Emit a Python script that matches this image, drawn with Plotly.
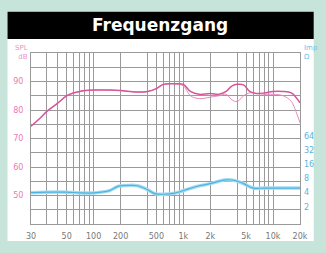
import math
import plotly.graph_objects as go

# Frequency (Hz)
freq_spl = [20, 25, 30, 40, 50, 60, 70, 80, 100, 150, 200, 300, 400, 500, 600, 800, 1000,
            1200, 1500, 2000, 2500, 3000, 3500, 4000, 4700, 5500, 6500, 8000, 10000,
            13000, 16000, 18000, 20000]
# SPL on-axis (dB)
spl_main = [74.3, 77, 79.5, 82.5, 85, 86, 86.5, 86.8, 87, 87, 86.8, 86.3, 86.5, 87.5, 89, 89.2, 89,
            86.5, 85.5, 85.8, 85.5, 86.5, 88.5, 89, 88.8, 86.5, 85.8, 86, 86.5,
            86.5, 86, 84.5, 82.5]
# SPL off-axis (dB)
spl_off = [74.3, 77, 79.5, 82.5, 85, 86, 86.5, 86.8, 87, 87, 86.8, 86.3, 86.5, 87.5, 89, 89.2, 88.5,
           85, 84, 84.5, 85, 85.5, 83.5, 83, 85, 86, 85.8, 85.5, 85.5,
           85, 83, 79.5, 75.5]

freq_imp = [20, 30, 50, 70, 100, 150, 190, 250, 310, 400, 480, 600, 800, 1030, 1400, 2000,
            2500, 3050, 3800, 4700, 6000, 8000, 12000, 20000]
imp = [4.0, 4.1, 4.1, 3.95, 3.95, 4.4, 5.5, 5.7, 5.6, 4.6, 3.8, 3.7, 3.9, 4.5, 5.4, 6.2,
       7.0, 7.5, 7.2, 6.2, 5.0, 5.0, 5.0, 5.0]

x_grid = [20, 30, 40, 50, 60, 70, 80, 90, 100, 200, 400, 500, 600, 700, 800, 900, 1000,
          2000, 4000, 5000, 6000, 7000, 8000, 9000, 10000, 20000]
x_label_vals = [20, 50, 100, 200, 500, 1000, 2000, 5000, 10000, 20000]
x_labels = ["30", "50", "100", "200", "500", "1k", "2k", "5k", "10k", "20k"]
y_grid = [40, 45, 50, 55, 60, 65, 70, 75, 80, 85, 90, 95, 100]
y_labels = {50: "50", 60: "60", 70: "70", 80: "80", 90: "90"}
imp_ticks = [2, 4, 8, 16, 32, 64]

pink = "#d8559a"
pink_light = "#e48cbd"
blue = "#4fb3df"

fig = go.Figure()
fig.add_trace(go.Scatter(x=freq_spl, y=spl_off, mode="lines",
                         line=dict(color=pink_light, width=1, shape="spline"), showlegend=False))
fig.add_trace(go.Scatter(x=freq_spl, y=spl_main, mode="lines",
                         line=dict(color=pink, width=1.5, shape="spline"), showlegend=False))
fig.add_trace(go.Scatter(x=freq_imp, y=imp, mode="lines", yaxis="y2",
                         line=dict(color="#a6dcf2", width=3.5, shape="spline"), showlegend=False))
fig.add_trace(go.Scatter(x=freq_imp, y=imp, mode="lines", yaxis="y2",
                         line=dict(color=blue, width=1.2, shape="spline"), showlegend=False))

lo, hi = math.log10(20), math.log10(20000)

fig.update_layout(
    width=326, height=253,
    margin=dict(l=31, r=20, t=53, b=18),
    paper_bgcolor="#c6e4da",
    plot_bgcolor="white",
    font=dict(family="DejaVu Sans", size=8, color="#777"),
    xaxis=dict(type="log", range=[lo, hi], tickvals=x_grid,
               ticktext=[x_labels[x_label_vals.index(v)] if v in x_label_vals else "" for v in x_grid],
               showgrid=True, gridcolor="#9a9a9a", gridwidth=1,
               showline=True, linecolor="#9a9a9a", mirror=True, ticks="",
               ticklabelstandoff=4,
               tickfont=dict(size=8, color="#777"), zeroline=False),
    yaxis=dict(range=[40, 100], tickvals=y_grid,
               ticktext=[y_labels.get(v, "") for v in y_grid],
               showgrid=True, gridcolor="#9a9a9a", gridwidth=1,
               showline=True, linecolor="#9a9a9a", mirror=True, ticks="",
               ticklabelstandoff=5,
               tickfont=dict(size=8, color="#ec78b6"), zeroline=False),
    yaxis2=dict(type="log", range=[-0.064, 3.567], overlaying="y", side="right",
                tickvals=imp_ticks, ticktext=[str(v) for v in imp_ticks],
                showgrid=False, ticks="", showline=False, zeroline=False,
                ticklabelstandoff=3,
                tickfont=dict(size=8, color="#5ab4e0")),
    shapes=[
        dict(type="rect", xref="paper", yref="paper", x0=-0.0873, x1=1.051, y0=-0.0989, y1=1.2418,
             fillcolor="white", line=dict(width=0), layer="below"),
        dict(type="rect", xref="paper", yref="paper", x0=-0.0873, x1=1.051, y0=1.0824, y1=1.2418,
             fillcolor="black", line=dict(width=0), layer="below"),
    ],
    annotations=[
        dict(text="<b>Frequenzgang</b>", xref="paper", yref="paper", x=0.48, y=1.165,
             showarrow=False, font=dict(family="DejaVu Sans", size=17, color="white"),
             xanchor="center", yanchor="middle"),
        dict(text="SPL<br>dB", xref="paper", yref="paper", x=-0.005, y=1.005,
             showarrow=False, font=dict(size=7, color="#f090c8"), xanchor="right", yanchor="middle",
             align="right"),
        dict(text="Imp<br>Ω", xref="paper", yref="paper", x=1.008, y=1.005,
             showarrow=False, font=dict(size=7, color="#70c0e8"), xanchor="left", yanchor="middle",
             align="left"),
    ],
)

fig.write_html("out.html", config={"displayModeBar": False},
               post_script="document.body.style.margin='0';document.body.style.overflow='hidden';")
